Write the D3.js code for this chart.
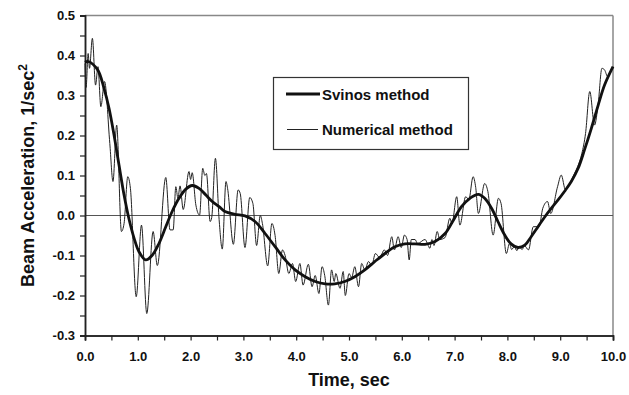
<!DOCTYPE html>
<html>
<head>
<meta charset="utf-8">
<script src="https://cdn.jsdelivr.net/npm/d3@7"></script>
<style>
  body { margin: 0; background: #fff; }
  text { font-family: "Liberation Sans", Arial, sans-serif; font-weight: bold; fill: #111; }
</style>
</head>
<body>
<div id="chart"></div>
<script>
// Svinos method (smooth curve)
const svinosT = [0, 0.06, 0.24, 0.36, 0.455, 0.55, 0.644, 0.74, 0.83, 0.93, 1.02, 1.15, 1.275, 1.40, 1.53, 1.65, 1.78, 1.91, 2.03, 2.16, 2.29, 2.41, 2.54, 2.65, 2.84, 3.03, 3.22, 3.41, 3.60, 3.79, 3.98, 4.17, 4.36, 4.55, 4.73, 4.92, 5.11, 5.30, 5.49, 5.68, 5.87, 6.06, 6.25, 6.44, 6.63, 6.82, 6.98, 7.13, 7.29, 7.45, 7.57, 7.70, 7.82, 7.95, 8.07, 8.20, 8.33, 8.45, 8.58, 8.71, 8.83, 8.96, 9.08, 9.21, 9.34, 9.46, 9.59, 9.72, 9.84, 10.0];
const svinosV = [0.383, 0.385, 0.364, 0.318, 0.268, 0.201, 0.126, 0.051, -0.007, -0.057, -0.09, -0.111, -0.099, -0.07, -0.028, 0.01, 0.043, 0.066, 0.075, 0.068, 0.051, 0.035, 0.022, 0.01, 0.003, -0.001, -0.015, -0.045, -0.078, -0.111, -0.136, -0.153, -0.165, -0.171, -0.171, -0.165, -0.153, -0.136, -0.115, -0.095, -0.078, -0.071, -0.071, -0.072, -0.065, -0.045, -0.011, 0.022, 0.043, 0.053, 0.043, 0.018, -0.015, -0.049, -0.071, -0.08, -0.074, -0.053, -0.028, -0.003, 0.018, 0.039, 0.06, 0.085, 0.118, 0.164, 0.218, 0.276, 0.326, 0.372];

// Numerical method (noisy curve)
const numT = [0, 0.02, 0.06, 0.085, 0.14, 0.2, 0.246, 0.3, 0.37, 0.47, 0.53, 0.6, 0.69, 0.74, 0.81, 0.86, 0.97, 1.07, 1.17, 1.29, 1.37, 1.53, 1.61, 1.67, 1.72, 1.76, 1.8, 1.86, 1.97, 2.0, 2.03, 2.1, 2.17, 2.23, 2.27, 2.3, 2.37, 2.4, 2.47, 2.54, 2.6, 2.67, 2.7, 2.81, 2.9, 2.94, 3.03, 3.12, 3.18, 3.25, 3.32, 3.36, 3.46, 3.54, 3.6, 3.67, 3.74, 3.79, 3.86, 3.93, 3.99, 4.07, 4.13, 4.23, 4.3, 4.36, 4.43, 4.49, 4.54, 4.61, 4.67, 4.72, 4.75, 4.83, 4.89, 4.93, 5.0, 5.05, 5.11, 5.18, 5.24, 5.3, 5.37, 5.43, 5.5, 5.58, 5.67, 5.73, 5.81, 5.86, 5.93, 5.99, 6.05, 6.1, 6.14, 6.18, 6.25, 6.3, 6.44, 6.5, 6.53, 6.57, 6.61, 6.67, 6.72, 6.82, 6.91, 6.95, 7.04, 7.1, 7.21, 7.27, 7.35, 7.4, 7.45, 7.57, 7.63, 7.73, 7.83, 7.88, 7.98, 8.04, 8.08, 8.13, 8.18, 8.22, 8.28, 8.32, 8.4, 8.49, 8.6, 8.67, 8.76, 8.82, 8.95, 9.02, 9.1, 9.18, 9.27, 9.33, 9.41, 9.48, 9.56, 9.65, 9.72, 9.79, 9.84, 9.9, 9.97, 10.0];
const numV = [0.38, 0.32, 0.405, 0.368, 0.443, 0.326, 0.372, 0.272, 0.335, 0.18, 0.085, 0.226, -0.04, -0.02, 0.097, 0.068, -0.203, -0.024, -0.245, -0.04, -0.125, 0.095, -0.036, -0.036, 0.072, 0.043, 0.074, 0.015, 0.11, 0.09, 0.107, 0.026, 0.001, 0.118, 0.1, 0.105, -0.015, -0.005, 0.143, -0.01, -0.084, 0.085, 0.068, -0.072, 0.064, 0.055, -0.08, 0.045, 0.03, -0.075, 0.0, -0.02, -0.126, -0.02, -0.05, -0.145, -0.086, -0.1, -0.145, -0.12, -0.165, -0.12, -0.174, -0.122, -0.178, -0.15, -0.195, -0.128, -0.15, -0.224, -0.136, -0.165, -0.145, -0.182, -0.14, -0.2, -0.145, -0.155, -0.128, -0.178, -0.12, -0.136, -0.115, -0.125, -0.095, -0.105, -0.086, -0.1, -0.053, -0.086, -0.053, -0.08, -0.049, -0.06, -0.111, -0.06, -0.06, -0.07, -0.06, -0.075, -0.082, -0.06, -0.075, -0.04, -0.06, -0.055, -0.007, -0.02, 0.047, -0.024, 0.047, 0.04, 0.097, 0.07, 0.005, 0.08, 0.06, -0.049, 0.043, 0.03, -0.095, -0.07, -0.085, -0.078, -0.088, -0.078, -0.085, -0.075, -0.086, -0.028, -0.028, 0.018, 0.035, 0.005, 0.072, 0.101, 0.064, 0.08, 0.105, 0.122, 0.155, 0.205, 0.31, 0.226, 0.28, 0.368, 0.364, 0.347, 0.363, 0.372];

const yMajor = [-0.3, -0.2, -0.1, 0.0, 0.1, 0.2, 0.3, 0.4, 0.5];
const yMinor = [-0.25, -0.15, -0.05, 0.05, 0.15, 0.25, 0.35, 0.45];
const xMajor = [0, 1, 2, 3, 4, 5, 6, 7, 8, 9, 10];
const xMinor = [0.5, 1.5, 2.5, 3.5, 4.5, 5.5, 6.5, 7.5, 8.5, 9.5];
const seriesNames = ['Svinos method', 'Numerical method'];

const W = 629, H = 395;
const margin = { top: 15.5, right: 16, bottom: 59.5, left: 85 },
    width = W - margin.left - margin.right,
    height = H - margin.top - margin.bottom;

const svg = d3.select('#chart').append('svg')
    .attr('width', W)
    .attr('height', H);

const g = svg.append('g')
    .attr('transform', `translate(${margin.left},${margin.top})`);

const x = d3.scaleLinear().domain([0, 10]).range([0, width]);
const y = d3.scaleLinear().domain([-0.3, 0.5]).range([height, 0]);

// frame: top and right in gray
g.append('line').attr('x1', 0).attr('x2', width).attr('y1', 0).attr('y2', 0)
    .attr('stroke', '#888').attr('stroke-width', 1.5);
g.append('line').attr('x1', width).attr('x2', width).attr('y1', 0).attr('y2', height)
    .attr('stroke', '#888').attr('stroke-width', 1.5);

// zero line
g.append('line').attr('x1', 0).attr('x2', width).attr('y1', y(0)).attr('y2', y(0))
    .attr('stroke', '#555').attr('stroke-width', 1);

const fmt = d => d.toFixed(1);

g.append('g')
    .call(d3.axisLeft(y).tickValues(yMajor).tickFormat(fmt).tickSize(5).tickPadding(5));
g.append('g')
    .call(d3.axisLeft(y).tickValues(yMinor).tickFormat('').tickSize(5));

g.append('g')
    .attr('transform', `translate(0,${height})`)
    .call(d3.axisBottom(x).tickValues(xMajor).tickFormat(fmt).tickSize(5).tickPadding(11));
g.append('g')
    .attr('transform', `translate(0,${height})`)
    .call(d3.axisBottom(x).tickValues(xMinor).tickFormat('').tickSize(5));

g.selectAll('.domain').attr('stroke', '#222').attr('stroke-width', 1.5);
g.selectAll('.tick line').attr('stroke', '#222').attr('stroke-width', 1.2);
g.selectAll('.tick text').attr('font-size', 13).attr('font-weight', 'bold')
    .attr('font-family', '"Liberation Sans", Arial, sans-serif').attr('fill', '#111');

// lines
const svinos = d3.zip(svinosT, svinosV);
const numerical = d3.zip(numT, numV);

const smoothLine = d3.line()
    .x(d => x(d[0]))
    .y(d => y(d[1]))
    .curve(d3.curveCatmullRom.alpha(0.5));
const noisyLine = d3.line()
    .x(d => x(d[0]))
    .y(d => y(d[1]))
    .curve(d3.curveMonotoneX);

g.append('path')
    .attr('fill', 'none')
    .attr('stroke', '#222')
    .attr('stroke-width', 1)
    .attr('d', noisyLine(numerical));

g.append('path')
    .attr('fill', 'none')
    .attr('stroke', '#111')
    .attr('stroke-width', 2.8)
    .attr('stroke-linejoin', 'round')
    .attr('d', smoothLine(svinos));

// legend
const legend = svg.append('g');
legend.append('rect')
    .attr('x', 273.5).attr('y', 77.5).attr('width', 195).attr('height', 72)
    .attr('fill', '#fff').attr('stroke', '#333').attr('stroke-width', 1.2);
legend.append('line').attr('x1', 286).attr('x2', 320).attr('y1', 94).attr('y2', 94)
    .attr('stroke', '#111').attr('stroke-width', 2.8);
legend.append('line').attr('x1', 287).attr('x2', 318).attr('y1', 129.5).attr('y2', 129.5)
    .attr('stroke', '#222').attr('stroke-width', 1);
legend.append('text').attr('x', 322).attr('y', 100).attr('font-size', 15).text(seriesNames[0]);
legend.append('text').attr('x', 322).attr('y', 135).attr('font-size', 15).text(seriesNames[1]);

// axis titles
svg.append('text')
    .attr('x', margin.left + width / 2).attr('y', 386)
    .attr('text-anchor', 'middle').attr('font-size', 18)
    .text('Time, sec');

const yTitle = svg.append('text')
    .attr('transform', `translate(34,${margin.top + height / 2}) rotate(-90)`)
    .attr('text-anchor', 'middle').attr('font-size', 18);
yTitle.append('tspan').text('Beam Acceleration, 1/sec');
yTitle.append('tspan').attr('dy', -7).attr('font-size', 12).text('2');
</script>
</body>
</html>
